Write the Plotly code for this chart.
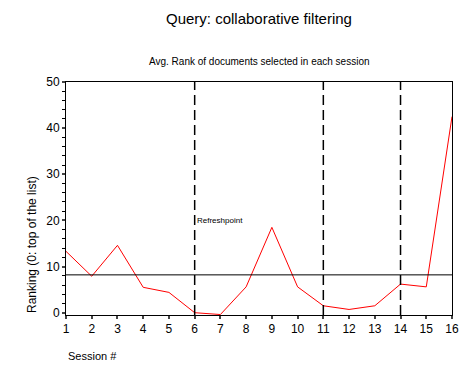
import plotly.graph_objects as go

sessions = list(range(1, 17))
avg_rank = [13.3, 7.9, 14.6, 5.5, 4.4, 0.0, -0.4, 5.6, 18.5, 5.6, 1.5, 0.7, 1.5, 6.2, 5.6, 42.5]
mean_rank = 8.2
refresh_points = [6, 11, 14]
x_ticks = list(range(1, 17))
y_ticks = [0, 10, 20, 30, 40, 50]

FONT = "Liberation Sans, Arial, sans-serif"

fig = go.Figure()
fig.add_trace(go.Scatter(x=sessions, y=avg_rank, mode="lines",
                         line=dict(color="#ff0000", width=1), showlegend=False))
fig.add_trace(go.Scatter(x=[sessions[0], sessions[-1]], y=[mean_rank, mean_rank], mode="lines",
                         line=dict(color="black", width=1), showlegend=False))
for rp in refresh_points:
    fig.add_shape(type="line", x0=rp, x1=rp, y0=-0.5, y1=50, xref="x", yref="y",
                  line=dict(color="black", width=1.5, dash="10px,5px"))

annotations = [
    dict(x=6, y=20, xref="x", yref="y", text="Refreshpoint", showarrow=False, xanchor="left",
         yanchor="middle", font=dict(size=8, family=FONT, color="black")),
    dict(text="Query: collaborative filtering", xref="paper", yref="paper", x=0.5, y=1,
         xanchor="center", yanchor="bottom", yshift=53, showarrow=False,
         font=dict(size=15, family=FONT)),
    dict(text="Avg. Rank of documents selected in each session", xref="paper", yref="paper",
         x=0.5, y=1, xanchor="center", yanchor="bottom", yshift=13, showarrow=False,
         font=dict(size=10, family=FONT)),
    dict(text="Session #", xref="paper", yref="paper", x=0, y=0, xanchor="left",
         yanchor="top", yshift=-33, showarrow=False, font=dict(size=11, family=FONT)),
    dict(text="Ranking (0: top of the list)", xref="paper", yref="paper", x=0, y=0,
         xanchor="center", yanchor="middle", xshift=-34, yshift=70, textangle=-90,
         showarrow=False, font=dict(size=12, family=FONT)),
]

fig.update_layout(
    width=463, height=369,
    margin=dict(l=58, r=19, t=74, b=62),
    plot_bgcolor="white", paper_bgcolor="white",
    font=dict(family=FONT, color="black"),
    annotations=annotations,
)
fig.update_xaxes(range=[1, 16], tickvals=x_ticks, ticks="outside", ticklen=3, tickwidth=2,
                 showgrid=False, zeroline=False, showline=True, linecolor="black", linewidth=1,
                 mirror=True, tickfont=dict(size=12), automargin=False)
fig.update_yaxes(range=[-0.5, 50], tickvals=y_ticks, ticks="outside", ticklen=3, tickwidth=2,
                 showgrid=False, zeroline=False, showline=True, linecolor="black", linewidth=1,
                 mirror=True, tickfont=dict(size=12), automargin=False,
                 minor=dict(dtick=2, ticks="outside", ticklen=3, tickwidth=1, tickcolor="black"))
fig.write_html("out.html")
